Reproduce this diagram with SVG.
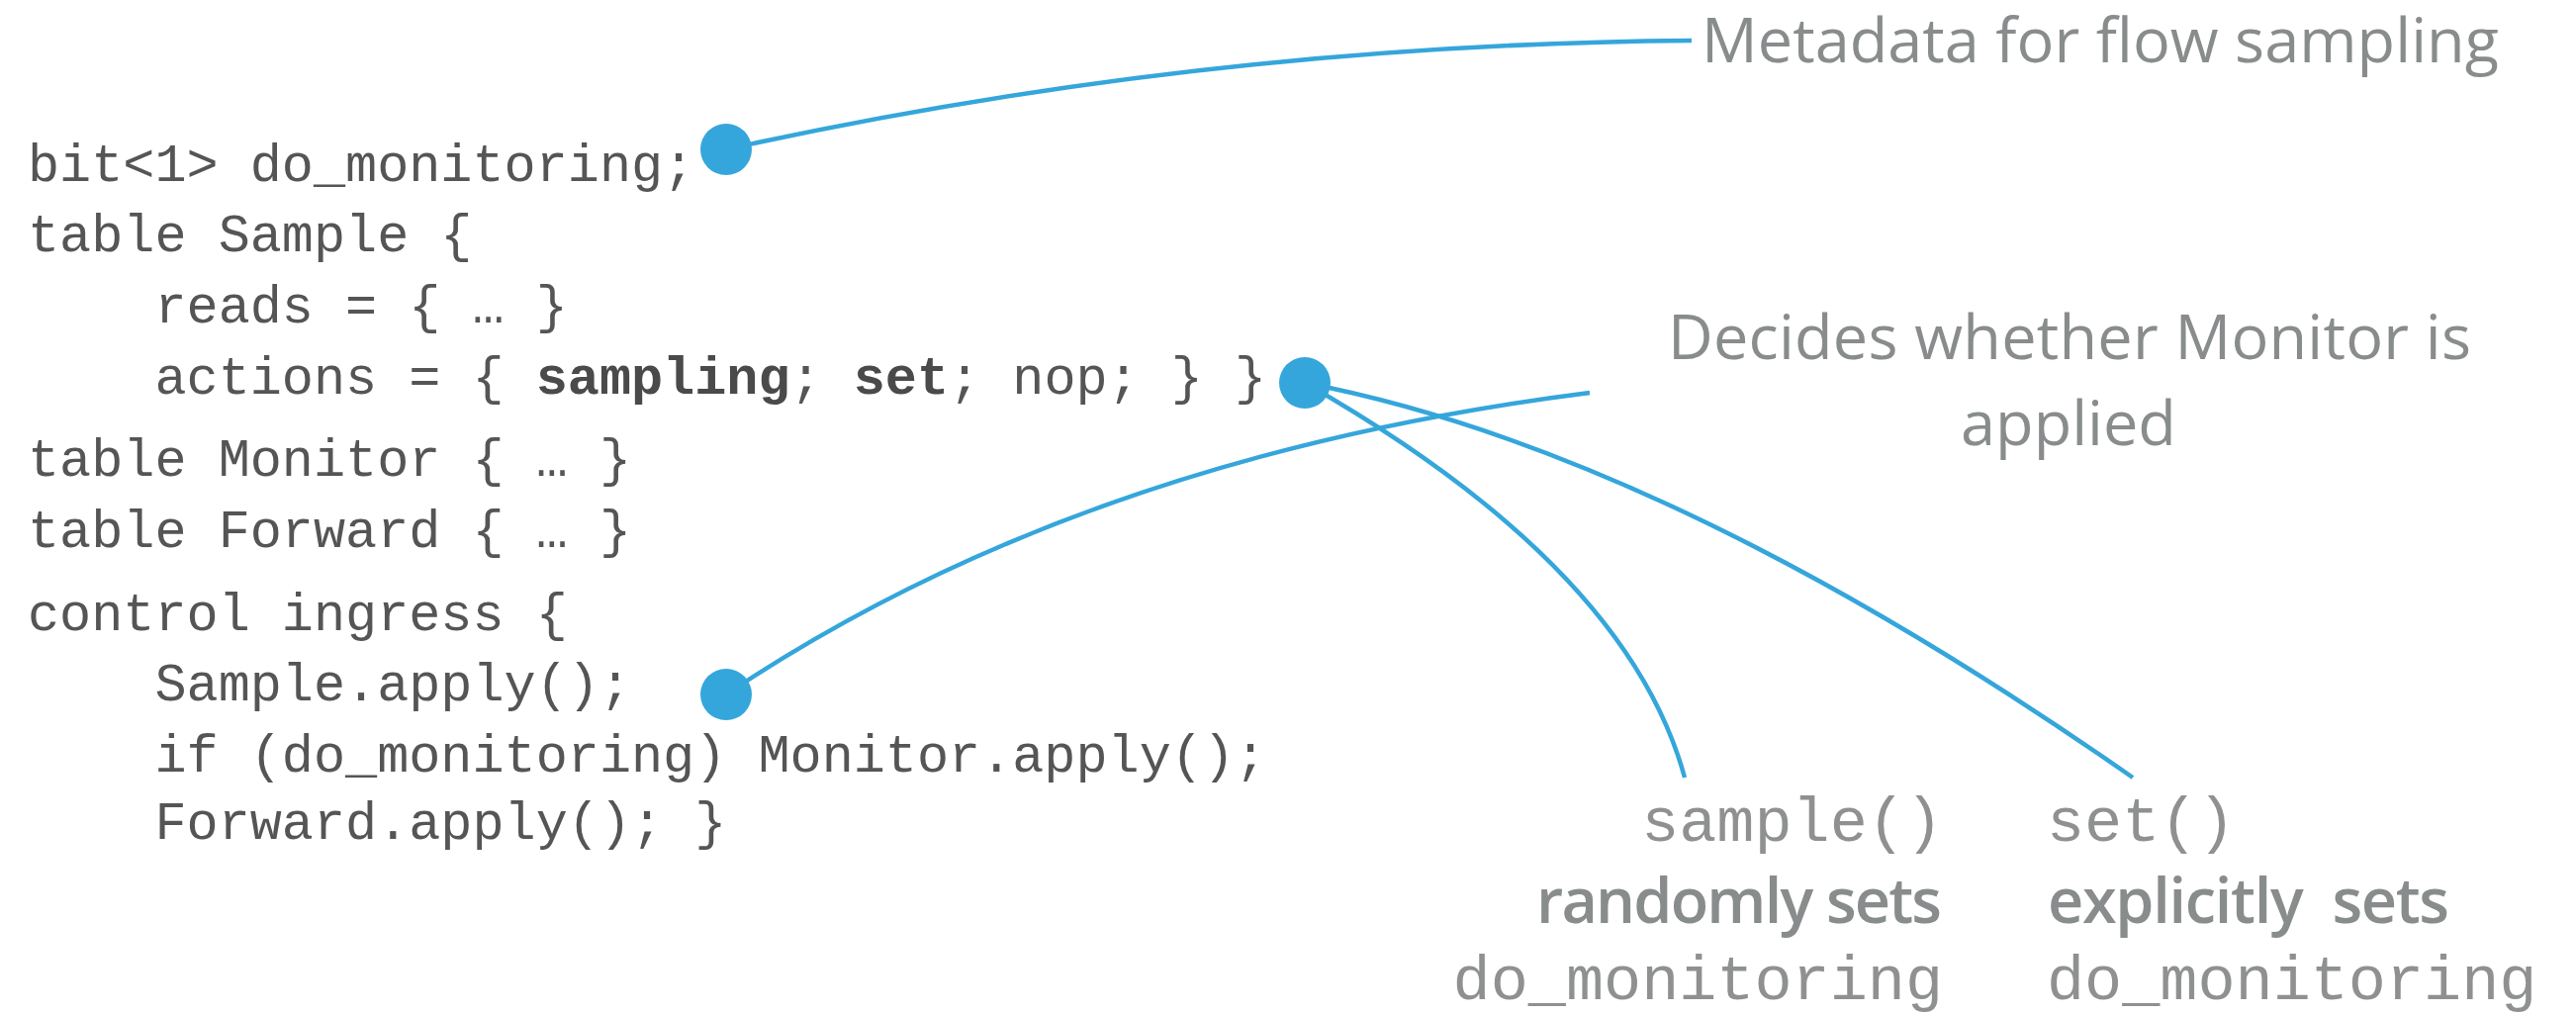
<svg xmlns="http://www.w3.org/2000/svg" width="2604" height="1025" viewBox="0 0 2604 1025">
  <style>
    .code { font-family: "Liberation Mono", "Courier New", monospace; font-size: 53.5px; fill: #555555; white-space: pre; }
    .code .b { font-weight: bold; fill: #4a4a4a; }
    .note { font-family: "Open Sans", "Liberation Sans", sans-serif; font-size: 63px; fill: #898c8c; white-space: pre; }
    .note.strong { font-weight: 600; }
    .mono { font-family: "Liberation Mono", "Courier New", monospace; font-size: 63.5px; fill: #8f9191; white-space: pre; }
    .wire { fill: none; stroke: #35a6db; stroke-width: 4.5; stroke-linecap: butt; }
    .dot { fill: #35a6db; }
  </style>

  <rect width="2604" height="1025" fill="#ffffff"/>

  <!-- P4 source listing -->
  <g id="code" class="code">
    <text xml:space="preserve" x="28" y="183">bit&lt;1&gt; do_monitoring;</text>
    <text xml:space="preserve" x="28" y="254">table Sample {</text>
    <text xml:space="preserve" x="28" y="326">    reads = { … }</text>
    <text xml:space="preserve" x="28" y="398">    actions = { <tspan class="b">sampling</tspan>; <tspan class="b">set</tspan>; nop; } }</text>
    <text xml:space="preserve" x="28" y="481">table Monitor { … }</text>
    <text xml:space="preserve" x="28" y="553">table Forward { … }</text>
    <text xml:space="preserve" x="28" y="637">control ingress {</text>
    <text xml:space="preserve" x="28" y="708">    Sample.apply();</text>
    <text xml:space="preserve" x="28" y="780">    if (do_monitoring) Monitor.apply();</text>
    <text xml:space="preserve" x="28" y="848">    Forward.apply(); }</text>
  </g>

  <!-- callout leaders -->
  <g id="connectors">
    <path class="wire" d="M734,151 Q1215,45 1710,41"/>
    <path class="wire" d="M1607,397 Q1092,462 734,702"/>
    <path class="wire" d="M1319,387 Q1645,573 1703,786"/>
    <path class="wire" d="M1319,387 Q1685,457 2156,786"/>
  </g>

  <!-- anchor dots -->
  <g id="dot-metadata"><circle class="dot" cx="734" cy="151" r="26"/></g>
  <g id="dot-actions"><circle class="dot" cx="1319" cy="387" r="26"/></g>
  <g id="dot-apply"><circle class="dot" cx="734" cy="702" r="26"/></g>

  <!-- annotations -->
  <g id="label-metadata">
    <text class="note" x="1720" y="63" textLength="806" lengthAdjust="spacing">Metadata for flow sampling</text>
  </g>
  <g id="label-decides">
    <text class="note" x="2092" y="363" text-anchor="middle" textLength="812" lengthAdjust="spacing">Decides whether Monitor is</text>
    <text class="note" x="2091" y="450" text-anchor="middle">applied</text>
  </g>
  <g id="label-sample">
    <text class="mono" x="1964" y="850" text-anchor="end">sample()</text>
    <text class="note strong" x="1963" y="933" text-anchor="end" textLength="410" lengthAdjust="spacing">randomly sets</text>
    <text class="mono" x="1964" y="1010" text-anchor="end">do_monitoring</text>
  </g>
  <g id="label-set">
    <text class="mono" x="2069" y="850">set()</text>
    <text xml:space="preserve" class="note strong" x="2070" y="933" textLength="406" lengthAdjust="spacing">explicitly  sets</text>
    <text class="mono" x="2069" y="1010">do_monitoring</text>
  </g>
</svg>
